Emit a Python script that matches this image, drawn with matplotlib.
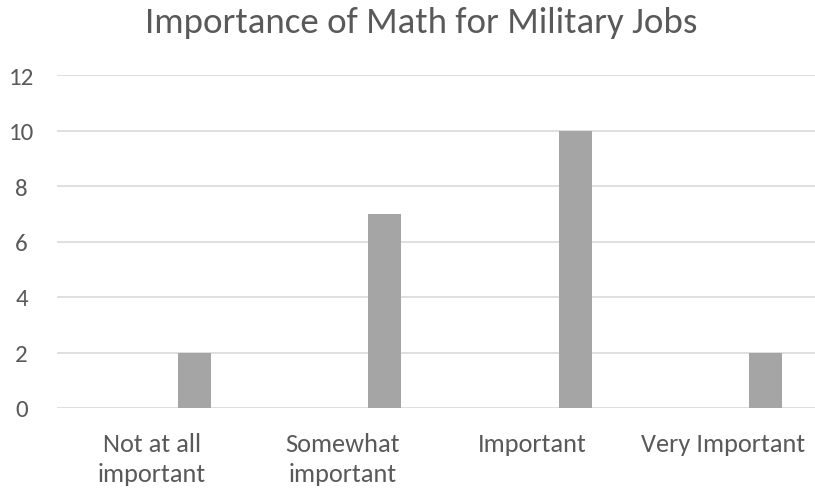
import matplotlib
matplotlib.use("Agg")
import matplotlib.pyplot as plt
import numpy as np

categories = ["Not at all\nimportant", "Somewhat\nimportant", "Important", "Very Important"]
values = [2, 7, 10, 2]
yticks = [0, 2, 4, 6, 8, 10, 12]
title = "Importance of Math for Military Jobs"

plt.rcParams['font.family'] = ['Carlito', 'Open Sans', 'DejaVu Sans']
text_color = "#595959"

fig = plt.figure(figsize=(8.15, 4.89), dpi=100)
ax = fig.add_axes([57/815, 80/489, 761/815, 333/489])

x = np.arange(len(categories))
ax.bar(x + 0.223, values, width=0.173, color="#a5a5a5", zorder=3)

ax.set_xlim(-0.5, len(categories) - 0.5)
ax.set_ylim(0, 12)
ax.set_yticks(yticks)
ax.set_yticklabels([str(v) for v in yticks], fontsize=18, color=text_color)
ax.set_xticks(x)
ax.set_xticklabels(categories, fontsize=19, color=text_color, linespacing=1.38)
ax.tick_params(axis='both', length=0)
ax.tick_params(axis='x', pad=17)
ax.tick_params(axis='y', pad=25.5)
for lab in ax.get_yticklabels():
    lab.set_horizontalalignment('center')
ax.grid(axis='y', color="#d9d9d9", linewidth=1.2, zorder=0)
for s in ax.spines.values():
    s.set_visible(False)

fig.text(421/815, 1 - 33/489, title, ha='center', va='baseline', fontsize=26.6, color=text_color)

fig.savefig("out.png", dpi=100)
